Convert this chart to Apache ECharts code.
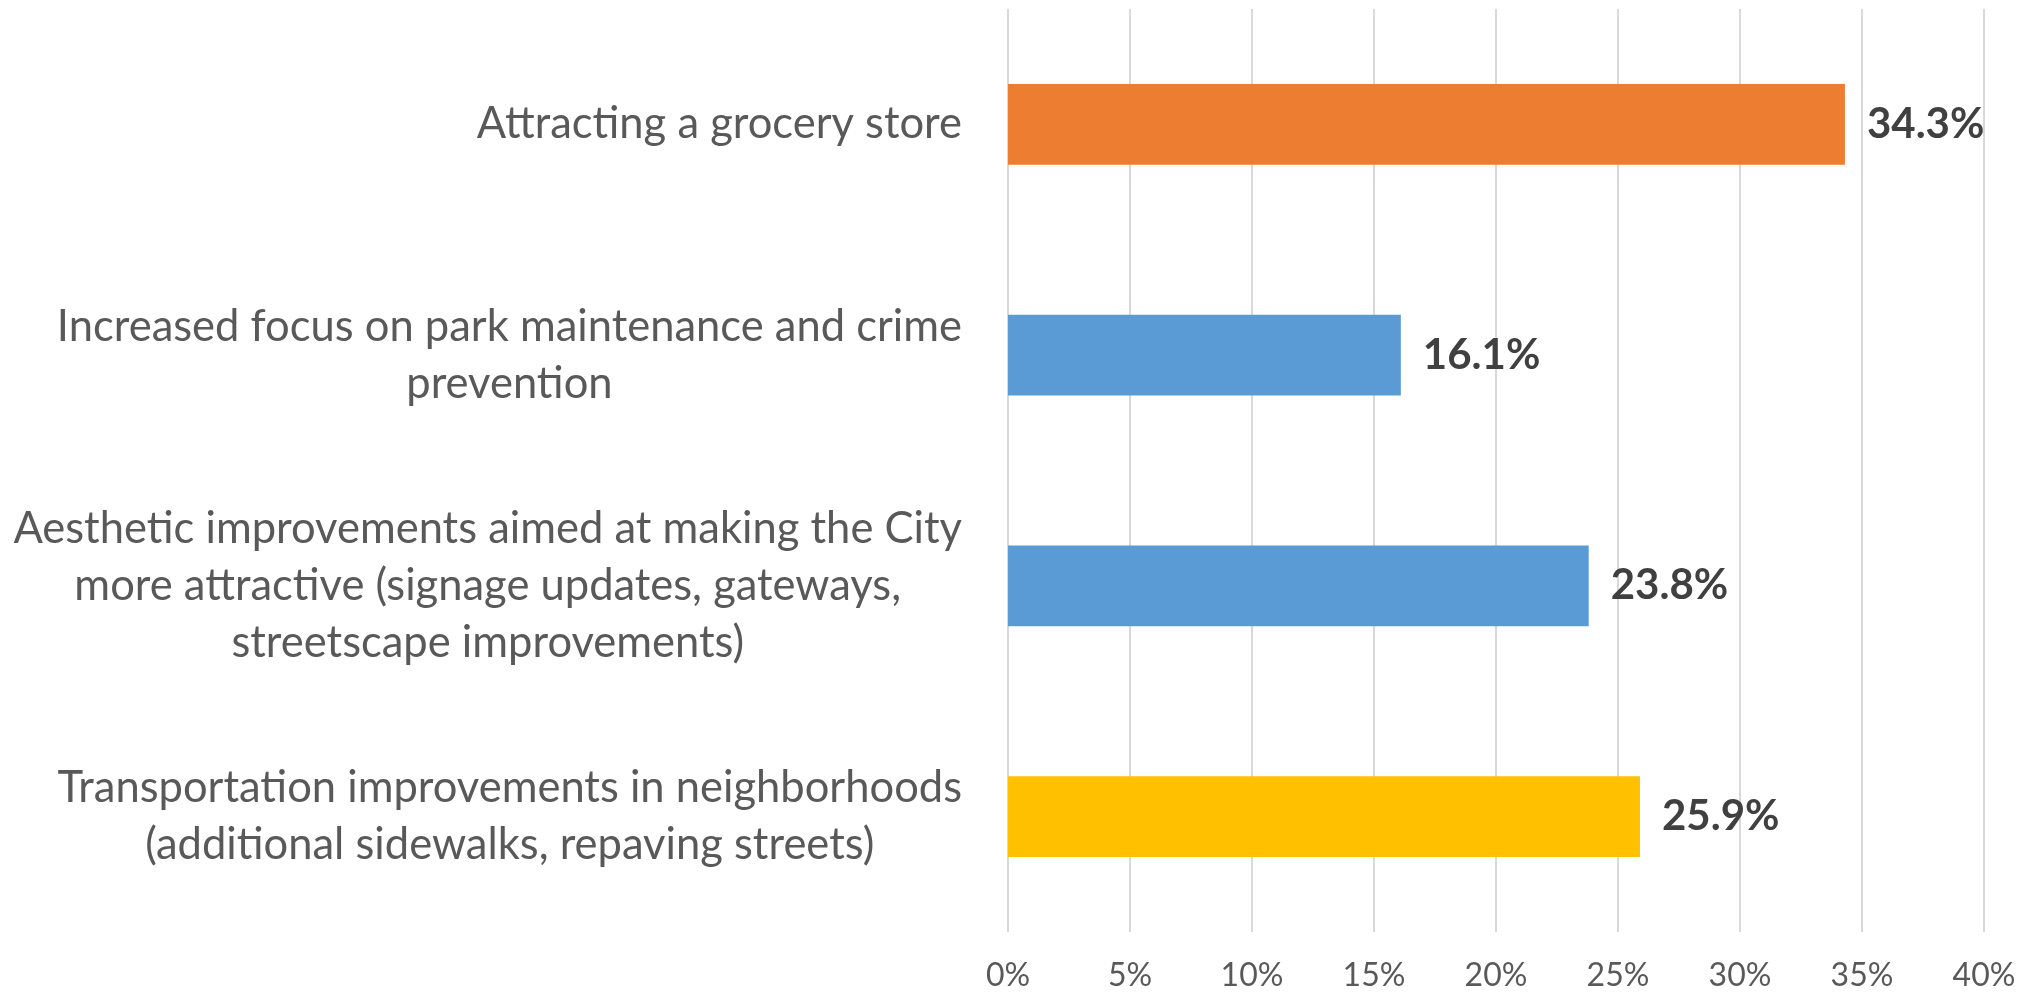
<!DOCTYPE html>
<html>
<head>
<meta charset="utf-8">
<script src="https://cdn.jsdelivr.net/npm/echarts@6/dist/echarts.min.js"></script>
<style>
  html, body { margin: 0; padding: 0; background: #fff; }
  #chart { width: 2030px; height: 992px; }
</style>
</head>
<body>
<div id="chart"></div>
<script>
// categories top to bottom, each line of the wrapped label
const categories = [
  'Attracting a grocery store',
  'Increased focus on park maintenance and crime\nprevention',
  'Aesthetic improvements aimed at making the City\nmore attractive (signage updates, gateways,\nstreetscape improvements)',
  'Transportation improvements in neighborhoods\n(additional sidewalks, repaving streets)'
]
const values = [34.3, 16.1, 23.8, 25.9]
const barColors = ['#ED7D31', '#5B9BD5', '#5B9BD5', '#FFC000']
const tickMax = 40
const tickStep = 5

const labelFont = "'Lato', sans-serif"

const chart = echarts.init(document.getElementById('chart'))

chart.setOption({
  backgroundColor: '#ffffff',
  animation: false,
  grid: {
    left: 1008,
    right: 46,
    top: 9,
    bottom: 60
  },
  xAxis: {
    type: 'value',
    min: 0,
    max: tickMax,
    interval: tickStep,
    axisLine: { show: false },
    axisTick: { show: false },
    axisLabel: {
      color: '#595959',
      fontSize: 32,
      fontFamily: labelFont,
      margin: 28,
      formatter: v => v + '%'
    },
    splitLine: { lineStyle: { color: '#d9d9d9', width: 2 } }
  },
  yAxis: {
    type: 'category',
    inverse: true,
    data: categories,
    axisLine: { show: false },
    axisTick: { show: false },
    axisLabel: {
      margin: 46,
      formatter: v => v.split('\n').map(l => '{c|' + l + '}').join('\n'),
      rich: {
        c: {
          align: 'center',
          color: '#595959',
          fontSize: 43.5,
          lineHeight: 57,
          fontFamily: labelFont
        }
      }
    }
  },
  series: [{
    type: 'bar',
    barWidth: '35%',
    data: values.map((v, i) => ({ value: v, itemStyle: { color: barColors[i] } })),
    label: {
      show: true,
      position: 'right',
      distance: 22,
      color: '#404040',
      fontWeight: 'bold',
      fontSize: 42,
      fontFamily: labelFont,
      formatter: p => p.value.toFixed(1) + '%'
    }
  }]
})
</script>
</body>
</html>
